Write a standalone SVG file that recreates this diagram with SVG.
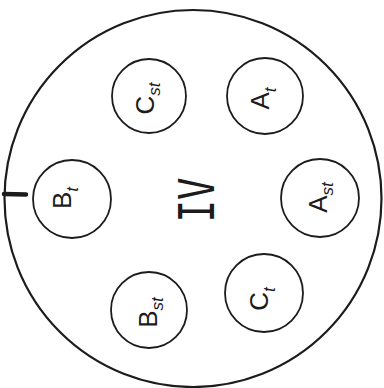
<svg xmlns="http://www.w3.org/2000/svg" width="384" height="388" viewBox="0 0 384 388">
<style>
.ring{fill:none;stroke:#1c1c1c;stroke-width:2.2}
.node circle{fill:none;stroke:#1c1c1c;stroke-width:1.8}
.lbl{font-family:"Liberation Sans","DejaVu Sans",sans-serif;font-size:26px;fill:#1c1c1c;text-anchor:middle}
.sub{font-size:17px;font-style:italic}
.big{font-family:"DejaVu Sans Mono",monospace;font-size:49px;fill:#1c1c1c;text-anchor:middle}
</style>
<rect width="384" height="388" fill="#fff"/>
<g id="housing">
<circle class="ring" cx="193" cy="198.5" r="188.5"/>
<line x1="4" y1="194" x2="26" y2="194.5" stroke="#1c1c1c" stroke-width="4.5" stroke-linecap="round"/>
<text class="big" transform="translate(214,200) rotate(-90)" textLength="45" lengthAdjust="spacingAndGlyphs">IV</text>
</g>
<g id="connectors"></g>
<g id="node-Cst" class="node"><circle cx="149" cy="96" r="37"/><text class="lbl" transform="translate(154,98.5) rotate(-90)">C<tspan class="sub" dy="6">st</tspan></text></g>
<g id="node-At" class="node"><circle cx="265" cy="96" r="38"/><text class="lbl" transform="translate(269,98.5) rotate(-90)">A<tspan class="sub" dy="7">t</tspan></text></g>
<g id="node-Bt" class="node"><circle cx="72" cy="199" r="39"/><text class="lbl" transform="translate(71,198) rotate(-90)">B<tspan class="sub" dy="7">t</tspan></text></g>
<g id="node-Ast" class="node"><circle cx="320" cy="198" r="39"/><text class="lbl" transform="translate(327,197.5) rotate(-90)">A<tspan class="sub" dy="6">st</tspan></text></g>
<g id="node-Bst" class="node"><circle cx="149" cy="310" r="38"/><text class="lbl" transform="translate(157,312.5) rotate(-90)">B<tspan class="sub" dy="6">st</tspan></text></g>
<g id="node-Ct" class="node"><circle cx="264" cy="293" r="39"/><text class="lbl" transform="translate(268,299) rotate(-90)">C<tspan class="sub" dy="7">t</tspan></text></g>
</svg>
